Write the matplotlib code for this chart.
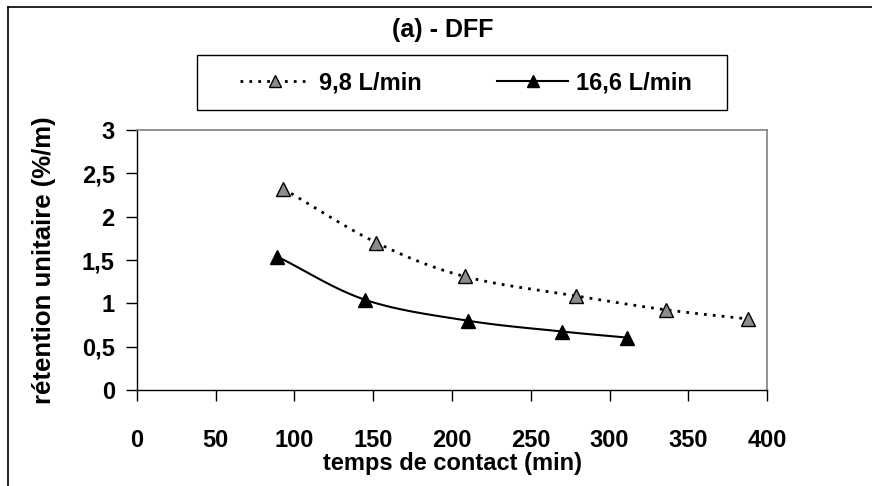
import numpy as np
import matplotlib
matplotlib.use("Agg")
import matplotlib.pyplot as plt
from matplotlib.lines import Line2D
from matplotlib.patches import Rectangle
from matplotlib.ticker import FuncFormatter, MultipleLocator

plt.rcParams['font.family'] = ['Liberation Sans', 'DejaVu Sans']
plt.rcParams['font.weight'] = 'bold'

# contact time (min) and unit retention (%/m) for each flow rate
t_98 = [93, 152, 208, 279, 336, 388]
r_98 = [2.32, 1.70, 1.31, 1.085, 0.925, 0.82]
t_166 = [89, 145, 210, 270, 311]
r_166 = [1.54, 1.04, 0.80, 0.675, 0.605]

label_98 = "9,8 L/min"
label_166 = "16,6 L/min"
title = "(a) - DFF"
xlabel = "temps de contact (min)"
ylabel = "rétention unitaire (%/m)"

FS = 17


def smooth(x, y, n=30):
    """Catmull-Rom curve through the points (spreadsheet-style smoothed line)."""
    x = np.asarray(x, float)
    y = np.asarray(y, float)
    px = np.concatenate([[2 * x[0] - x[1]], x, [2 * x[-1] - x[-2]]])
    py = np.concatenate([[2 * y[0] - y[1]], y, [2 * y[-1] - y[-2]]])
    xs, ys = [], []
    s = np.linspace(0, 1, n, endpoint=False)
    for i in range(1, len(px) - 2):
        for arr, out in ((px, xs), (py, ys)):
            p0, p1, p2, p3 = arr[i - 1], arr[i], arr[i + 1], arr[i + 2]
            out.extend(0.5 * ((2 * p1) + (-p0 + p2) * s
                              + (2 * p0 - 5 * p1 + 4 * p2 - p3) * s ** 2
                              + (-p0 + 3 * p1 - 3 * p2 + p3) * s ** 3))
    xs.append(x[-1])
    ys.append(y[-1])
    return np.array(xs), np.array(ys)


fig = plt.figure(figsize=(8.72, 4.86), dpi=100)
ax = fig.add_axes([0.1571, 0.1975, 0.7225, 0.535])

dotted = (0, (1, 2.2))

sx, sy = smooth(t_98, r_98)
ax.plot(sx, sy, color='black', lw=2.0, linestyle=dotted, zorder=2)
ax.plot(t_98, r_98, linestyle='none', marker='^', ms=10.5, mfc='#8c8c8c',
        mec='black', mew=1.0, zorder=3)

sx, sy = smooth(t_166, r_166)
ax.plot(sx, sy, color='black', lw=1.5, zorder=2)
ax.plot(t_166, r_166, linestyle='none', marker='^', ms=10.5, mfc='black',
        mec='black', mew=1.0, zorder=3)

ax.set_xlim(0, 400)
ax.set_ylim(0, 3)
ax.xaxis.set_major_locator(MultipleLocator(50))
ax.yaxis.set_major_locator(MultipleLocator(0.5))
ax.yaxis.set_major_formatter(FuncFormatter(
    lambda v, p: ('%g' % v).replace('.', ',')))
ax.tick_params(axis='both', direction='out', length=8, width=1.0,
               labelsize=FS, colors='black')
ax.tick_params(axis='x', pad=20)
ax.tick_params(axis='y', pad=8)
for lab in ax.get_xticklabels() + ax.get_yticklabels():
    lab.set_fontweight('bold')

for side in ('left', 'bottom'):
    ax.spines[side].set_color('black')
    ax.spines[side].set_linewidth(1.0)
for side in ('top', 'right'):
    ax.spines[side].set_color('#808080')
    ax.spines[side].set_linewidth(1.2)

ax.set_xlabel(xlabel, fontsize=FS, fontweight='bold', labelpad=0)
ax.set_ylabel(ylabel, fontsize=FS + 1.5, fontweight='bold')
ax.yaxis.set_label_coords(-0.128, 0.5)

fig.text(0.508, 0.938, title, ha='center', va='center', fontsize=FS + 1,
         fontweight='bold')

# legend box
fig.add_artist(Rectangle((197 / 872, 1 - 110 / 486), 530 / 872, 55 / 486,
                         transform=fig.transFigure, fill=False,
                         edgecolor='black', lw=1.0))
handles = [
    Line2D([], [], color='black', lw=2.0, linestyle=dotted, marker='^',
           ms=9, mfc='#8c8c8c', mec='black'),
    Line2D([], [], color='black', lw=1.5, marker='^', ms=9, mfc='black',
           mec='black'),
]
fig.legend(handles, [label_98, label_166], loc='center',
           bbox_to_anchor=(466 / 872, 1 - 83 / 486), ncol=2, frameon=False,
           handlelength=3.0, handletextpad=0.35, columnspacing=3.2,
           borderaxespad=0, borderpad=0,
           prop={'size': FS, 'weight': 'bold'})

# outer chart frame (left and top edges)
fig.add_artist(Line2D([0.009, 0.009], [0.0, 0.986], color='black', lw=1.2,
                      transform=fig.transFigure))
fig.add_artist(Line2D([0.009, 1.0], [0.986, 0.986], color='black', lw=1.2,
                      transform=fig.transFigure))

fig.savefig('out.png', dpi=100)
